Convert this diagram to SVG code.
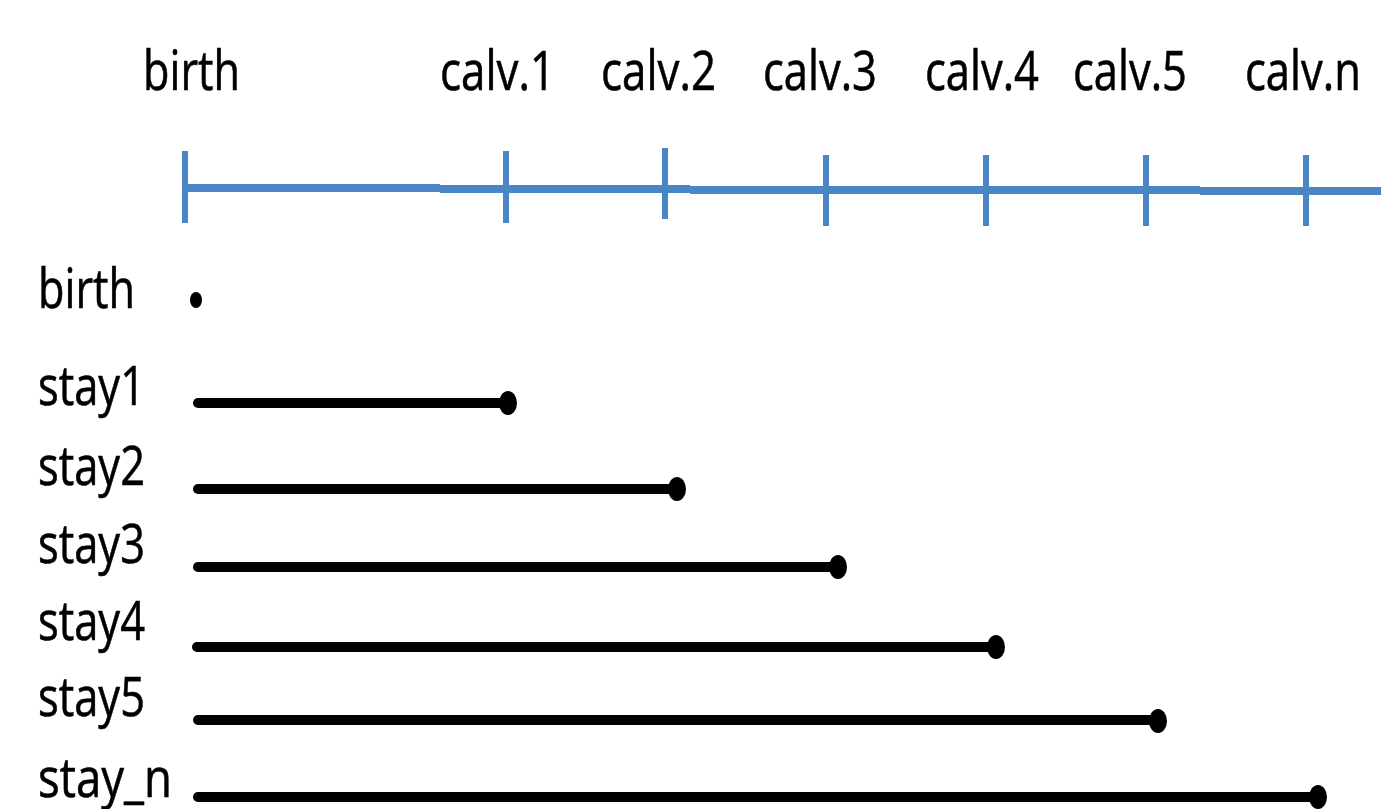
<svg xmlns="http://www.w3.org/2000/svg" width="1381" height="809" viewBox="0 0 1381 809">
<style>
.lbl{font-family:"Open Sans","Liberation Sans",sans-serif;font-size:55px;fill:#000;stroke:#000;stroke-width:0.6}
.axis{stroke:#4A86C5;stroke-width:8;fill:none}
.tick{stroke:#4A86C5;stroke-width:6}
.bar{stroke:#000;stroke-width:10;stroke-linecap:round}
</style>
<rect width="1381" height="809" fill="#fff"/>
<g id="timeline">
<path class="axis" d="M184 188 H440 M440 189 H690 M690 190 H950 M950 190 H1200 M1200 191 H1381"/>
<line class="tick" x1="185" y1="151" x2="185" y2="223"/>
<line class="tick" x1="506" y1="151" x2="506" y2="223"/>
<line class="tick" x1="665" y1="148" x2="665" y2="219"/>
<line class="tick" x1="826" y1="155" x2="826" y2="226"/>
<line class="tick" x1="986" y1="155" x2="986" y2="226"/>
<line class="tick" x1="1146" y1="155" x2="1146" y2="226"/>
<line class="tick" x1="1306" y1="155" x2="1306" y2="226"/>
</g>
<g id="top-labels">
<text class="lbl" x="143" y="90" textLength="97" lengthAdjust="spacingAndGlyphs">birth</text>
<text class="lbl" x="440" y="90" textLength="115" lengthAdjust="spacingAndGlyphs">calv.1</text>
<text class="lbl" x="601" y="90" textLength="115" lengthAdjust="spacingAndGlyphs">calv.2</text>
<text class="lbl" x="763" y="90" textLength="114" lengthAdjust="spacingAndGlyphs">calv.3</text>
<text class="lbl" x="925" y="90" textLength="114" lengthAdjust="spacingAndGlyphs">calv.4</text>
<text class="lbl" x="1073" y="90" textLength="114" lengthAdjust="spacingAndGlyphs">calv.5</text>
<text class="lbl" x="1245" y="90" textLength="116" lengthAdjust="spacingAndGlyphs">calv.n</text>
</g>
<g id="row-birth">
<text class="lbl" x="38" y="308" textLength="97" lengthAdjust="spacingAndGlyphs">birth</text>
<ellipse cx="196" cy="300" rx="6" ry="8" fill="#000"/>
</g>
<g id="row-stay1">
<text class="lbl" x="38" y="405" textLength="107" lengthAdjust="spacingAndGlyphs">stay1</text>
<line class="bar" x1="198" y1="403" x2="506" y2="403"/>
<ellipse cx="508" cy="403" rx="9" ry="12" fill="#000"/>
</g>
<g id="row-stay2">
<text class="lbl" x="38" y="485" textLength="107" lengthAdjust="spacingAndGlyphs">stay2</text>
<line class="bar" x1="198" y1="489" x2="675" y2="489"/>
<ellipse cx="677" cy="489" rx="9" ry="12" fill="#000"/>
</g>
<g id="row-stay3">
<text class="lbl" x="38" y="563" textLength="107" lengthAdjust="spacingAndGlyphs">stay3</text>
<line class="bar" x1="198" y1="567" x2="836" y2="567"/>
<ellipse cx="838" cy="567" rx="9" ry="12" fill="#000"/>
</g>
<g id="row-stay4">
<text class="lbl" x="38" y="640" textLength="107" lengthAdjust="spacingAndGlyphs">stay4</text>
<line class="bar" x1="197" y1="647" x2="994" y2="647"/>
<ellipse cx="996" cy="647" rx="9" ry="12" fill="#000"/>
</g>
<g id="row-stay5">
<text class="lbl" x="38" y="716" textLength="107" lengthAdjust="spacingAndGlyphs">stay5</text>
<line class="bar" x1="198" y1="720" x2="1156" y2="720"/>
<ellipse cx="1158" cy="721" rx="9" ry="12" fill="#000"/>
</g>
<g id="row-stay_n">
<text class="lbl" x="38" y="797" textLength="134" lengthAdjust="spacingAndGlyphs">stay_n</text>
<line class="bar" x1="198" y1="797" x2="1316" y2="797"/>
<ellipse cx="1318" cy="797" rx="9" ry="12" fill="#000"/>
</g>
</svg>
